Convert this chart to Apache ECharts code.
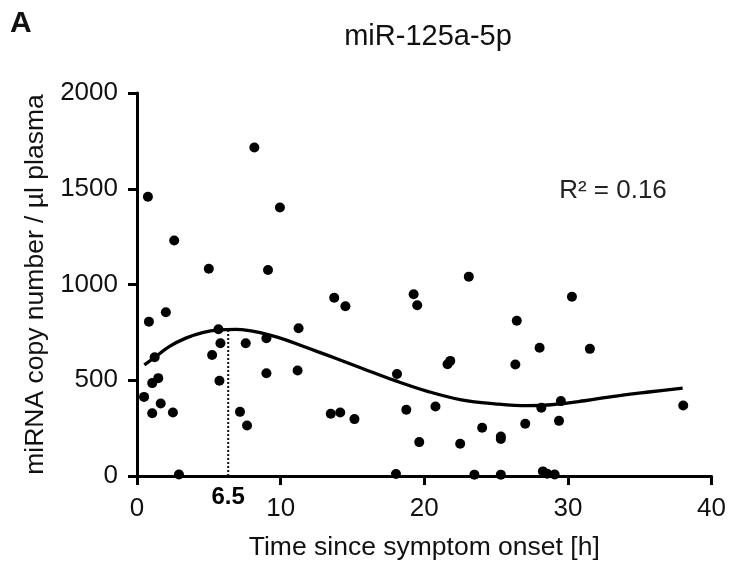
<!DOCTYPE html>
<html>
<head>
<meta charset="utf-8">
<script src="https://cdn.jsdelivr.net/npm/echarts@6/dist/echarts.min.js"></script>
<style>
html,body{margin:0;padding:0;background:#fff;}
#c{width:729px;height:569px;}
</style>
</head>
<body>
<div id="c"></div>
<script>
// Scatter points: time since symptom onset [h] and copy number
var pointX = [8.17,0.76,9.95,2.59,5.0,9.12,0.83,2.01,5.67,5.81,7.57,9.01,11.25,5.23,1.23,1.48,1.06,5.74,9.01,11.18,0.49,1.65,1.06,2.5,7.17,7.66,2.92,13.73,14.51,19.26,19.51,23.1,26.44,21.81,21.62,26.34,18.1,13.49,14.15,15.14,18.75,20.78,24.03,25.33,25.33,19.65,22.5,18.03,23.49,25.33,30.28,28.03,31.53,29.51,28.15,38.03,27.03,29.38,28.26,28.56,29.08];
var pointY = [1715,1458,1402,1230,1082,1076,806,855,766,693,693,719,772,632,620,511,485,497,537,551,413,379,328,332,335,264,8,931,886,949,892,1041,811,601,584,582,533,325,332,297,346,363,252,206,193,177,168,10,7,7,936,670,664,391,356,368,273,288,24,12,8];
// Fitted curve
var curveX = [0.51,1.32,2.24,3.40,4.56,5.72,6.88,8.03,9.19,10.35,11.51,12.66,13.82,15.65,17.97,20.28,22.59,24.91,27.22,28.84,31.16,33.47,35.78,37.99];
var curveY = [580,624,676,720,749,763,766,756,737,711,679,647,615,563,498,441,398,377,367,372,393,419,440,459];
// Peak marker
var peakX = 6.35;
var peakY = 762;
var peakLabel = '6.5';
var xTicks = [0,10,20,30,40];
var yTicks = [0,500,1000,1500,2000];
var titleText = 'miR-125a-5p';
var r2Text = 'R\u00b2 = 0.16';
var panelText = 'A';
var xName = 'Time since symptom onset [h]';
var yName = 'miRNA copy number / \u00b5l plasma';

var pts = pointX.map(function(x,i){return [x, pointY[i]];});
var curve = curveX.map(function(x,i){return [x, curveY[i]];});
var FONT = '"Liberation Sans", Arial, Helvetica, sans-serif';

var chart = echarts.init(document.getElementById('c'), null, {renderer:'canvas'});
chart.setOption({
  animation:false,
  backgroundColor:'#fff',
  grid:{left:137, right:15, top:93, bottom:93, containLabel:false},
  xAxis:{
    type:'value', min:xTicks[0], max:xTicks[xTicks.length-1], interval:10,
    name:xName, nameLocation:'middle', nameGap:58,
    nameTextStyle:{fontFamily:FONT, fontSize:26.5, color:'#111'},
    axisLine:{show:true, onZero:false, lineStyle:{color:'#000', width:3}},
    axisTick:{show:true, inside:false, length:9, lineStyle:{color:'#000', width:3}},
    axisLabel:{fontFamily:FONT, fontSize:26, color:'#111', margin:20, formatter:function(v){return String(v);}},
    splitLine:{show:false}
  },
  yAxis:{
    type:'value', min:yTicks[0], max:yTicks[yTicks.length-1], interval:500,
    name:yName, nameLocation:'middle', nameGap:77, nameRotate:90,
    nameTextStyle:{fontFamily:FONT, fontSize:26.5, color:'#111'},
    axisLine:{show:true, onZero:false, lineStyle:{color:'#000', width:3}},
    axisTick:{show:true, inside:false, length:9, lineStyle:{color:'#000', width:3}},
    axisLabel:{fontFamily:FONT, fontSize:26, color:'#111', margin:19, formatter:function(v){return String(v);}},
    splitLine:{show:false}
  },
  graphic:[
    {type:'text', left:10, top:9, style:{text:panelText, font:'bold 30px '+FONT, fill:'#111'}},
    {type:'text', x:428, y:37, style:{text:titleText, font:'29px '+FONT, fill:'#111', textAlign:'center', textVerticalAlign:'middle'}},
    {type:'text', x:613, y:191, style:{text:r2Text, font:'26px '+FONT, fill:'#222', textAlign:'center', textVerticalAlign:'middle'}}
  ],
  series:[
    {
      type:'line', data:[[peakX,0],[peakX,peakY]], showSymbol:false, symbol:'none',
      lineStyle:{color:'#111', width:2, type:[2,2]}, silent:true, z:1
    },
    {
      type:'line', data:curve, smooth:0.4, showSymbol:false, symbol:'none',
      lineStyle:{color:'#000', width:3.3}, z:2
    },
    {
      type:'scatter', data:pts, symbol:'circle', symbolSize:10,
      itemStyle:{color:'#000', opacity:1}, z:3
    },
    {
      type:'scatter', data:[[peakX,0]], symbolSize:0.1, itemStyle:{color:'#000', opacity:1},
      label:{show:true, position:'bottom', distance:9, formatter:peakLabel,
        fontFamily:FONT, fontWeight:'bold', fontSize:24, color:'#000', opacity:1}, z:4
    }
  ]
});
</script>
</body>
</html>
